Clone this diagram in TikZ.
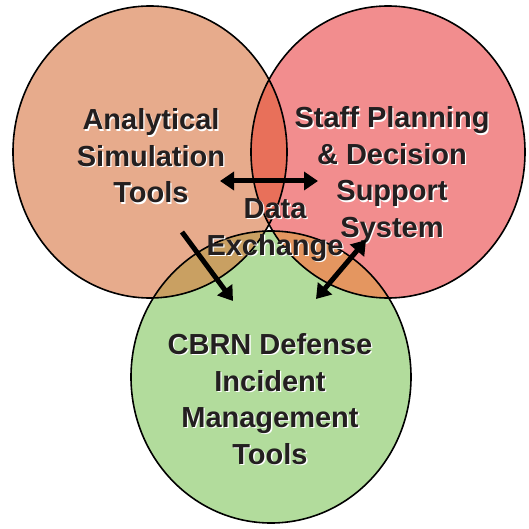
\documentclass[tikz,border=0pt]{standalone}
\usepackage{fontspec}
\setmainfont{Liberation Sans}
\usetikzlibrary{arrows.meta}
\definecolor{cL}{HTML}{E7AB8C}
\definecolor{cR}{HTML}{F28D8E}
\definecolor{cB}{HTML}{B2DC9C}
\definecolor{cLR}{HTML}{E8705A}
\definecolor{cLB}{HTML}{C9A062}
\definecolor{cRB}{HTML}{E49660}
\definecolor{ink}{HTML}{231F20}
\newcommand\glowtext[3]{%
  \node[lbl,text=white] at ([shift={(1.3,1.3)}]#2) {#3};
  \node[lbl] (#1) at (#2) {#3};}
\begin{document}
\begin{tikzpicture}[x=1pt,y=-1pt,
  lbl/.style={align=center,text=ink,font=\bfseries\fontsize{29}{36.5}\selectfont,inner sep=0pt},
  outline/.style={draw=black,line width=1.6pt},
  arr/.style={line width=5pt,-{Triangle[length=14pt,width=18pt]}},
  darr/.style={line width=5pt,{Triangle[length=14pt,width=18pt]}-{Triangle[length=14pt,width=18pt]}}]
\useasboundingbox (0,0) rectangle (528,529);
\def\Lp{(150,152) ellipse [x radius=137, y radius=146]}
\def\Rp{(388,152) ellipse [x radius=137, y radius=146]}
\def\Bp{(271,377) ellipse [x radius=140, y radius=146]}
\fill[cL] \Lp;
\fill[cR] \Rp;
\fill[cB] \Bp;
\begin{scope}\clip \Lp; \fill[cLR] \Rp;\end{scope}
\begin{scope}\clip \Lp; \fill[cLB] \Bp;\end{scope}
\begin{scope}\clip \Rp; \fill[cRB] \Bp;\end{scope}
\begin{scope}\clip \Lp; \clip \Rp; \fill[cB] \Bp;\end{scope}
\draw[outline] \Lp;
\draw[outline] \Rp;
\draw[outline] \Bp;
\glowtext{ast}{151,156}{Analytical\\Simulation\\Tools}
\glowtext{sp}{392,175}{Staff Planning\\\& Decision\\Support\\System}
\glowtext{cbrn}{270,399}{CBRN Defense\\Incident\\Management\\Tools}
\glowtext{dx}{275,230}{Data\\Exchange}
\coordinate (h1) at (220,181);
\coordinate (h2) at (318,181);
\coordinate (d1) at (182,232);
\coordinate (d2) at (233,301);
\coordinate (e1) at (316,299);
\coordinate (e2) at (366,240);
\draw[darr] (h1) -- (h2);
\draw[arr] (d1) -- (d2);
\draw[darr] (e1) -- (e2);
\end{tikzpicture}
\end{document}
